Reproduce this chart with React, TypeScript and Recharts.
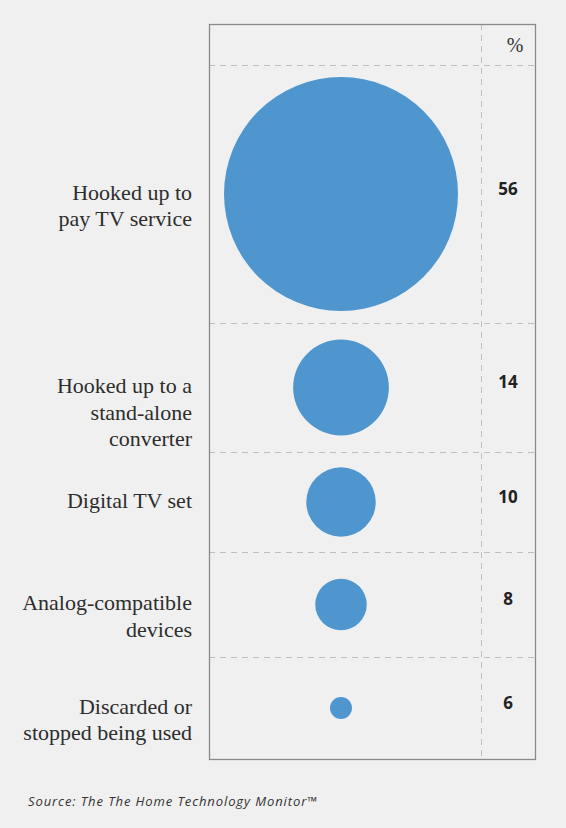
import { Scatter, ScatterChart, XAxis, YAxis, ZAxis } from "recharts";

const categories = [
  "Hooked up to\npay TV service",
  "Hooked up to a\nstand-alone\nconverter",
  "Digital TV set",
  "Analog-compatible\ndevices",
  "Discarded or\nstopped being used"
];
const shares = [56, 14, 10, 8, 6];
const unitLabel = "%";
const sourceNote = "Source: The The Home Technology Monitor™";

// layout only
const frame = { left: 209, top: 24, right: 535, bottom: 759, valueCol: 481, headerBottom: 65 };
const rowHeights = [258, 129, 100, 105, 102];
const bubbleColor = "#4f96cf";
const bubbleArea: [number, number] = [380, 43000];

const serif = '"Liberation Serif", "Times New Roman", serif';
const sans = '"Open Sans", "Noto Sans", sans-serif';

function LabelTick({ x, y, payload }: any) {
  const lines = String(payload.value).split("\n");
  return (
    <text x={x - 17} y={y - 2} textAnchor="end" fontFamily={serif} fontSize={22} fill="#2d2d2d">
      {lines.map((line, i) => (
        <tspan key={i} x={x - 17} dy={i === 0 ? "0.35em" : 26.5}>
          {line}
        </tspan>
      ))}
    </text>
  );
}

function ValueTick({ x, y, payload }: any) {
  return (
    <text x={x + 35} y={y - 5} dy="0.35em" textAnchor="middle" fontFamily={sans} fontWeight={700} fontSize={17} fill="#222">
      {payload.value}
    </text>
  );
}

function Row({ label, value, top, height }: { label: string; value: number; top: number; height: number }) {
  const data = [{ label, value }];
  return (
    <div style={{ position: "absolute", left: 0, top, width: 566, height }}>
      <ScatterChart width={566} height={height} margin={{ top: 0, right: 0, bottom: 0, left: 0 }}>
        <XAxis type="category" dataKey="value" allowDuplicatedCategory={false} hide />
        <YAxis
          yAxisId="label"
          type="category"
          dataKey="label"
          width={209}
          axisLine={false}
          tickLine={false}
          tickSize={0}
          tickMargin={0}
          interval={0}
          tick={<LabelTick />}
        />
        <YAxis
          yAxisId="value"
          orientation="right"
          type="category"
          dataKey="value"
          width={93}
          axisLine={false}
          tickLine={false}
          tickSize={0}
          tickMargin={0}
          interval={0}
          tick={<ValueTick />}
        />
        <ZAxis type="number" dataKey="value" domain={[Math.min(...shares), Math.max(...shares)]} range={bubbleArea} />
        <Scatter yAxisId="label" data={data} fill={bubbleColor} isAnimationActive={false} />
        <Scatter yAxisId="value" data={data} shape={() => <g />} isAnimationActive={false} />
      </ScatterChart>
    </div>
  );
}

export default function App() {
  const rowTops = rowHeights.map((_, i) => frame.headerBottom + rowHeights.slice(0, i).reduce((a, b) => a + b, 0));
  const dashedYs = [frame.headerBottom, ...rowTops.slice(1)];

  return (
    <div style={{ position: "absolute", left: 0, top: 0, width: 566, height: 828, background: "#f0f0f0", overflow: "hidden" }}>
      <svg width={566} height={828} style={{ position: "absolute", left: 0, top: 0 }}>
        {dashedYs.map((y) => (
          <line key={y} x1={frame.left} x2={frame.right} y1={y + 0.5} y2={y + 0.5} stroke="#bfbfbf" strokeDasharray="6 5" />
        ))}
        <line
          x1={frame.valueCol + 0.5}
          x2={frame.valueCol + 0.5}
          y1={frame.top}
          y2={frame.bottom}
          stroke="#bfbfbf"
          strokeDasharray="6 5"
        />
        <rect
          x={frame.left + 0.5}
          y={frame.top + 0.5}
          width={frame.right - frame.left}
          height={frame.bottom - frame.top}
          fill="none"
          stroke="#8a8a8a"
          strokeWidth={1.3}
        />
        <text x={515} y={52} textAnchor="middle" fontFamily={serif} fontSize={20} fill="#333">
          {unitLabel}
        </text>
        <text x={28} y={806} fontFamily={sans} fontStyle="italic" fontSize={13} letterSpacing={0.9} fill="#333">
          {sourceNote}
        </text>
      </svg>
      {categories.map((label, i) => (
        <Row key={label} label={label} value={shares[i]} top={rowTops[i]} height={rowHeights[i]} />
      ))}
    </div>
  );
}
